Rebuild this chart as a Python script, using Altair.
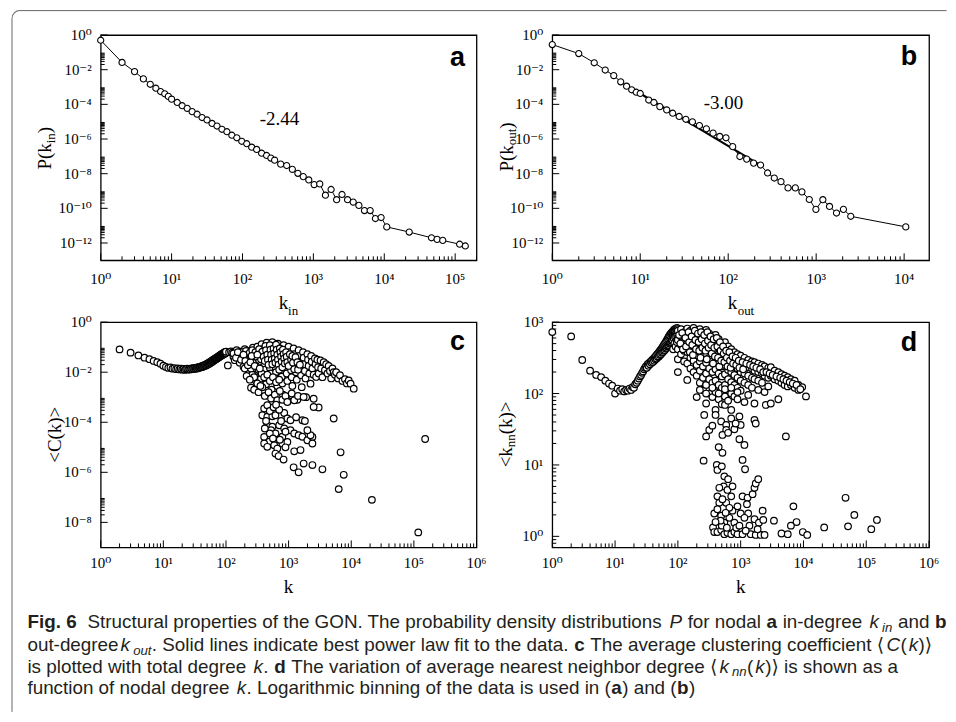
import altair as alt
import pandas as pd

SERIF = "Liberation Serif, DejaVu Serif, serif"
SANS = "Liberation Sans, Arial, sans-serif"
CAP = "Liberation Sans, Arial, DejaVu Sans, sans-serif"

# ---------------- Panel a : P(k_in), logarithmically binned ----------------
a_k = [1, 2, 3, 4, 5, 6, 7, 8, 9, 10,
       12.0, 14.1, 16.6, 19.5, 22.9, 26.9, 31.6, 37.2, 43.7, 51.3,
       60.3, 70.8, 83.2, 97.7, 114.8, 134.9, 158.5, 186.2, 218.8, 251.2,
       284, 346, 420, 505, 604, 720, 861, 1026, 1230, 1479,
       1778, 2128, 2535, 3034, 3648, 4385, 5260, 6324, 7499, 9016,
       10840, 22490, 46340, 55590, 66830, 115600, 139000]
a_logp = [-0.30, -1.58, -2.11, -2.53, -2.84, -3.07, -3.26, -3.39, -3.54, -3.70,
          -3.89, -4.08, -4.23, -4.42, -4.57, -4.76, -4.90, -5.10, -5.25, -5.44,
          -5.58, -5.78, -5.93, -6.13, -6.27, -6.47, -6.60, -6.82, -6.95, -7.10,
          -7.22, -7.45, -7.53, -7.75, -7.98, -8.17, -8.36, -8.63, -8.59, -9.24,
          -8.91, -9.50, -9.20, -9.50, -9.64, -9.83, -10.13, -10.13, -10.59, -10.53,
          -11.07, -11.37, -11.70, -11.79, -11.85, -12.07, -12.17]
a_fit_k = [10, 300]
a_fit_logp = [-3.66, -7.27]

# ---------------- Panel b : P(k_out) ----------------
b_k = [1, 2, 3, 4, 5, 6, 7, 8, 9, 10,
       12.5, 14.3, 16.7, 20.0, 23.4, 27.7, 33.0, 39.2, 47.1, 56.5,
       67.3, 80.2, 94.4, 112.5, 135.8, 162.2, 194.5, 233.3, 280.5, 334.2,
       398.1, 478.6, 579.4, 688.7, 835.6, 993.1, 1191, 1419, 1702, 2042,
       2472, 10440]
b_logp = [-0.55, -1.07, -1.60, -2.02, -2.34, -2.70, -2.95, -3.16, -3.30, -3.37,
          -3.75, -3.89, -4.13, -4.32, -4.51, -4.70, -4.86, -5.01, -5.22, -5.41,
          -5.66, -5.85, -5.93, -6.44, -7.01, -7.16, -7.39, -7.50, -7.96, -8.25,
          -8.46, -8.82, -8.82, -9.05, -9.49, -10.06, -9.50, -9.89, -10.27, -10.06,
          -10.46, -11.07]
b_fit_k = [10.3, 245]
b_fit_logp = [-3.41, -7.58]

# ---------------- integer degrees 11..100 (panels c and d) ----------------
band_k = [11, 12, 13, 14, 15, 16, 17, 18, 19, 20, 21, 22, 23, 24, 25, 26, 27, 28, 29, 30,
          31, 32, 33, 34, 35, 36, 37, 38, 39, 40, 41, 42, 43, 44, 45, 46, 47, 48, 49, 50,
          51, 52, 53, 54, 55, 56, 57, 58, 59, 60, 61, 62, 63, 64, 65, 66, 67, 68, 69, 70,
          71, 72, 73, 74, 75, 76, 77, 78, 79, 80, 81, 82, 83, 84, 85, 86, 87, 88, 89, 90,
          91, 92, 93, 94, 95, 96, 97, 98, 99, 100]

# ---------------- Panel c : <C(k)> ----------------
c_low_k = [2, 3, 4, 5, 6, 7, 8, 9, 10]
c_low_logc = [-1.09, -1.22, -1.33, -1.42, -1.48, -1.55, -1.60, -1.66, -1.74]
c_band_logc = [-1.79, -1.83, -1.81, -1.86, -1.84, -1.88, -1.85, -1.89, -1.86, -1.90,
               -1.87, -1.91, -1.88, -1.86, -1.90, -1.87, -1.89, -1.85, -1.88, -1.84,
               -1.87, -1.83, -1.86, -1.82, -1.85, -1.80, -1.83, -1.79, -1.81, -1.77,
               -1.80, -1.75, -1.78, -1.73, -1.76, -1.71, -1.74, -1.69, -1.72, -1.66,
               -1.69, -1.64, -1.67, -1.61, -1.65, -1.59, -1.62, -1.56, -1.60, -1.54,
               -1.57, -1.51, -1.55, -1.49, -1.52, -1.47, -1.50, -1.45, -1.48, -1.43,
               -1.46, -1.41, -1.44, -1.39, -1.42, -1.37, -1.40, -1.35, -1.38, -1.33,
               -1.36, -1.31, -1.34, -1.29, -1.33, -1.28, -1.31, -1.26, -1.30, -1.25,
               -1.28, -1.23, -1.27, -1.22, -1.26, -1.20, -1.24, -1.19, -1.23, -1.18]
# (log10 k, log10 C) for k > 100
c_cloud = [(2.03, -1.73), (2.05, -1.20), (2.08, -1.17),
           (2.10, -1.22), (2.12, -1.38), (2.14, -1.52), (2.17, -1.12), (2.18, -1.30), (2.20, -1.45),
           (2.22, -1.62), (2.23, -1.18), (2.25, -1.35), (2.27, -1.50), (2.28, -1.78), (2.30, -1.08),
           (2.31, -1.25), (2.33, -1.42), (2.34, -1.60), (2.36, -1.95), (2.37, -1.15), (2.38, -1.33),
           (2.40, -1.50), (2.41, -1.70), (2.42, -2.10), (2.43, -1.02), (2.44, -1.25), (2.45, -1.40),
           (2.46, -1.58), (2.47, -1.85), (2.48, -2.35), (2.40, -2.62), (2.50, -0.98), (2.51, -1.18),
           (2.52, -1.35), (2.53, -1.52), (2.54, -1.72), (2.55, -2.00), (2.56, -2.25), (2.57, -0.88),
           (2.58, -1.08), (2.59, -1.28), (2.60, -1.45), (2.61, -1.65), (2.62, -1.90), (2.63, -2.15),
           (2.64, -2.48), (2.65, -0.82), (2.66, -1.00), (2.67, -1.20), (2.68, -1.40), (2.69, -1.60),
           (2.70, -1.82), (2.71, -2.05), (2.72, -2.30), (2.73, -2.70), (2.74, -0.80), (2.75, -0.95),
           (2.76, -1.15), (2.77, -1.35), (2.78, -1.55), (2.79, -1.78), (2.80, -2.00), (2.81, -2.25),
           (2.82, -2.55), (2.83, -0.86), (2.84, -1.05), (2.85, -1.25), (2.86, -1.45), (2.87, -1.68),
           (2.88, -1.92), (2.89, -2.18), (2.90, -2.45), (2.91, -2.90), (2.92, -0.92), (2.93, -1.12),
           (2.94, -1.32), (2.95, -1.55), (2.96, -1.80), (2.97, -2.05), (2.98, -2.35), (2.99, -3.15),
           (3.00, -0.98), (3.01, -1.20), (3.02, -1.42), (3.03, -1.65), (3.04, -1.92), (3.05, -2.20),
           (3.06, -2.55), (3.08, -1.05), (3.09, -1.28), (3.10, -1.50), (3.11, -1.75), (3.12, -2.00),
           (3.13, -2.30), (3.14, -3.10), (3.16, -1.12), (3.17, -1.35), (3.18, -1.58), (3.19, -1.85),
           (3.20, -2.12), (3.21, -2.60), (3.23, -1.20), (3.24, -1.42), (3.25, -1.68), (3.26, -1.95),
           (3.27, -2.25), (3.28, -3.00), (3.30, -1.28), (3.31, -1.50), (3.32, -1.75), (3.33, -2.05),
           (3.35, -2.46), (3.36, -1.35), (3.37, -1.58), (3.38, -1.85), (3.40, -2.10), (3.40, -3.06),
           (3.42, -1.45), (3.43, -1.68), (3.44, -2.19), (3.46, -1.50), (3.47, -1.80), (3.48, -2.05),
           (3.48, -3.41), (3.40, -3.39), (3.51, -1.53), (3.52, -1.85), (3.54, -2.20), (3.56, -1.60),
           (3.58, -1.92), (3.60, -1.68), (3.62, -2.05), (3.64, -1.75), (3.66, -1.95), (3.68, -2.25),
           (3.70, -1.85), (3.72, -2.00), (3.74, -2.10), (3.76, -2.00), (3.79, -2.25), (3.82, -2.12),
           (3.86, -2.35), (3.90, -2.28), (3.93, -2.45), (3.96, -2.33), (3.99, -2.46), (4.04, -2.66),
           (2.45, -2.70), (2.52, -2.80), (2.58, -2.60), (2.62, -2.95), (2.68, -2.80), (2.72, -3.05),
           (2.78, -2.90), (2.82, -3.12), (2.86, -2.75), (2.90, -3.10), (2.95, -2.95), (2.98, -3.19),
           (3.05, -2.85), (3.09, -3.12), (3.15, -2.95), (3.24, -2.99)]
c_dense = [(2.21, -1.28), (2.26, -1.20), (2.29, -1.40), (2.32, -1.15), (2.35, -1.32), (2.38, -1.22),
           (2.39, -1.42), (2.42, -1.12), (2.44, -1.35), (2.47, -1.20), (2.49, -1.45), (2.51, -1.62),
           (2.53, -1.08), (2.55, -1.28), (2.56, -1.48), (2.58, -1.18), (2.60, -1.38), (2.62, -1.55),
           (2.63, -0.95), (2.64, -1.12), (2.66, -1.30), (2.67, -1.50), (2.68, -1.70), (2.70, -0.92),
           (2.71, -1.10), (2.72, -1.30), (2.73, -1.50), (2.74, -1.68), (2.76, -1.05), (2.77, -1.25),
           (2.78, -1.45), (2.79, -1.62), (2.80, -0.90), (2.81, -1.10), (2.82, -1.30), (2.83, -1.50),
           (2.84, -1.70), (2.85, -1.90), (2.86, -1.05), (2.87, -1.20), (2.88, -1.38), (2.89, -1.58),
           (2.90, -1.80), (2.91, -1.10), (2.92, -1.28), (2.93, -1.45), (2.94, -1.65), (2.96, -1.20),
           (2.97, -1.38), (2.98, -1.60), (3.00, -1.75), (3.02, -1.28), (3.04, -1.50), (3.06, -1.35),
           (3.07, -1.62), (3.09, -1.88), (3.11, -1.40), (3.14, -1.60), (3.15, -1.90), (3.18, -1.70),
           (2.36, -1.55), (2.43, -1.62), (2.48, -1.75), (2.52, -1.90), (2.57, -2.05), (2.61, -2.20),
           (2.66, -2.10), (2.70, -2.35), (2.75, -2.20), (2.80, -2.40), (2.85, -2.30), (2.30, -1.85),
           (2.40, -1.85), (2.45, -2.20), (2.50, -2.45), (2.55, -2.55), (2.33, -2.15), (2.38, -2.30),
           (2.12, -1.25), (2.16, -1.42), (2.19, -1.20), (2.24, -1.50), (2.28, -1.30), (2.31, -1.55),
           (2.35, -1.72), (2.39, -1.60), (2.41, -1.35), (2.46, -1.75), (2.50, -1.30), (2.54, -1.85)]
c_plume = [(2.61, -3.45), (2.66, -3.32), (2.58, -3.72), (2.66, -3.78), (2.74, -3.76), (2.79, -3.72),
           (2.93, -3.63), (2.98, -3.85), (3.03, -3.92), (3.22, -3.92), (3.26, -3.95), (2.66, -4.12),
           (2.74, -4.18), (2.85, -4.12), (2.93, -4.25), (3.03, -4.32), (3.09, -4.45), (3.16, -4.52),
           (3.22, -4.58), (3.30, -4.72), (3.38, -4.59), (3.38, -4.85), (2.61, -4.59), (2.69, -4.78),
           (2.61, -4.85), (2.66, -4.98), (2.77, -4.92), (2.82, -5.05), (2.90, -4.85), (2.98, -4.79),
           (2.79, -5.25), (2.84, -5.35), (2.92, -5.49), (2.72, -4.32), (2.79, -4.45), (2.90, -4.58),
           (2.95, -4.38), (3.09, -5.16), (3.19, -5.11), (3.08, -5.80), (3.16, -6.00), (3.24, -5.65),
           (3.38, -5.71), (3.54, -5.88), (3.35, -4.52), (3.30, -4.32), (2.70, -3.55), (2.76, -3.40),
           (2.85, -3.50), (2.88, -3.95), (2.70, -4.45), (2.62, -4.25), (2.75, -4.65), (2.86, -4.70),
           (2.95, -5.00), (3.12, -3.80), (2.80, -3.30), (2.64, -3.95),
           (3.72, -3.85), (3.83, -5.20), (3.88, -6.10), (3.80, -6.67), (4.33, -7.10), (5.07, -8.40),
           (5.18, -4.67)]

# ---------------- Panel d : <k_nn(k)> ----------------
d_low_k = [1, 2, 3, 4, 5, 6, 7, 8, 9, 10]
d_low_logknn = [2.86, 2.80, 2.47, 2.32, 2.26, 2.23, 2.18, 2.14, 2.11, 2.00]
d_band_logknn = [2.07, 2.04, 2.06, 2.03, 2.05, 2.04, 2.07, 2.05, 2.09, 2.08,
                 2.13, 2.15, 2.18, 2.21, 2.24, 2.26, 2.29, 2.31, 2.34, 2.36,
                 2.38, 2.36, 2.41, 2.39, 2.43, 2.41, 2.45, 2.43, 2.47, 2.44,
                 2.49, 2.46, 2.51, 2.48, 2.53, 2.49, 2.55, 2.51, 2.57, 2.52,
                 2.59, 2.54, 2.61, 2.55, 2.63, 2.57, 2.65, 2.58, 2.67, 2.60,
                 2.69, 2.61, 2.71, 2.63, 2.73, 2.64, 2.75, 2.66, 2.77, 2.67,
                 2.79, 2.68, 2.81, 2.70, 2.82, 2.71, 2.84, 2.72, 2.85, 2.74,
                 2.86, 2.75, 2.87, 2.62, 2.88, 2.77, 2.89, 2.70, 2.90, 2.79,
                 2.88, 2.66, 2.91, 2.80, 2.89, 2.72, 2.92, 2.82, 2.90, 2.78]
d_columns = [(2.00, [2.88, 2.75, 2.62, 2.48, 2.30]), (2.05, [2.90, 2.80, 2.68, 2.55]),
             (2.10, [2.86, 2.74, 2.60, 2.45]), (2.15, [2.91, 2.82, 2.70, 2.58, 2.42, 2.19]),
             (2.20, [2.88, 2.76, 2.64, 2.50, 2.35]), (2.25, [2.92, 2.83, 2.72, 2.60, 2.46, 2.30]),
             (2.30, [2.87, 2.78, 2.66, 2.54, 2.40, 2.25, 1.95]),
             (2.35, [2.90, 2.81, 2.70, 2.58, 2.45, 2.32, 2.15]),
             (2.40, [2.86, 2.76, 2.64, 2.52, 2.38, 2.22, 2.05]),
             (2.45, [2.89, 2.80, 2.68, 2.56, 2.43, 2.28, 2.12, 1.86]),
             (2.50, [2.84, 2.74, 2.62, 2.50, 2.35, 2.20, 2.00]),
             (2.55, [2.80, 2.70, 2.58, 2.45, 2.30, 2.15, 1.95]),
             (2.60, [2.82, 2.72, 2.60, 2.48, 2.34, 2.18, 2.02, 1.77]),
             (2.65, [2.76, 2.66, 2.55, 2.42, 2.28, 2.12, 1.92]),
             (2.70, [2.70, 2.60, 2.50, 2.38, 2.24, 2.08, 1.85]),
             (2.75, [2.72, 2.62, 2.52, 2.40, 2.27, 2.12, 1.96, 1.84]),
             (2.80, [2.66, 2.56, 2.45, 2.33, 2.20, 2.05, 1.90]),
             (2.85, [2.62, 2.52, 2.42, 2.30, 2.16, 2.00, 1.77]),
             (2.90, [2.58, 2.48, 2.38, 2.26, 2.12, 1.96]), (2.95, [2.55, 2.45, 2.35, 2.22, 2.08, 1.92]),
             (3.00, [2.53, 2.42, 2.30, 2.18, 2.04]), (3.06, [2.50, 2.40, 2.28, 2.15, 1.88]),
             (3.12, [2.47, 2.37, 2.25, 2.12, 1.98]), (3.18, [2.45, 2.35, 2.22, 2.08]),
             (3.22, [2.44, 2.32, 2.20, 1.86]), (3.28, [2.42, 2.30, 2.18, 2.05]),
             (3.34, [2.40, 2.28, 2.15]), (3.38, [2.38, 2.25, 2.02]), (3.40, [1.84]),
             (3.44, [2.36, 2.22, 2.10]), (3.48, [2.37, 2.25, 1.86]), (3.54, [2.32, 2.20]),
             (3.60, [2.30, 2.18, 1.92]), (3.65, [2.27, 2.15]), (3.70, [2.25, 2.12]),
             (3.75, [2.23, 2.10]), (3.80, [2.20, 2.12]), (3.86, [2.18, 2.08]), (3.92, [2.12, 2.05]),
             (3.98, [2.09]), (4.04, [1.96])]
d_dense = [(2.02, 2.82), (2.04, 2.70), (2.07, 2.85), (2.08, 2.62), (2.12, 2.78), (2.13, 2.66),
           (2.17, 2.86), (2.18, 2.72), (2.19, 2.58), (2.22, 2.80), (2.23, 2.68), (2.24, 2.54),
           (2.27, 2.88), (2.28, 2.75), (2.29, 2.62), (2.32, 2.84), (2.33, 2.72), (2.34, 2.60),
           (2.36, 2.50), (2.37, 2.86), (2.38, 2.76), (2.39, 2.64), (2.42, 2.82), (2.43, 2.70),
           (2.44, 2.60), (2.46, 2.48), (2.47, 2.86), (2.48, 2.74), (2.49, 2.64), (2.52, 2.80),
           (2.53, 2.68), (2.54, 2.56), (2.56, 2.42), (2.57, 2.76), (2.58, 2.64), (2.59, 2.52),
           (2.62, 2.78), (2.63, 2.66), (2.64, 2.50), (2.66, 2.38), (2.67, 2.72), (2.68, 2.60),
           (2.69, 2.46), (2.72, 2.66), (2.73, 2.56), (2.74, 2.44), (2.77, 2.60), (2.78, 2.50),
           (2.79, 2.38), (2.82, 2.58), (2.83, 2.46), (2.84, 2.36), (2.87, 2.52), (2.88, 2.42),
           (2.92, 2.50), (2.93, 2.40), (2.97, 2.46), (2.98, 2.36), (3.03, 2.44), (3.04, 2.34),
           (3.09, 2.42), (3.15, 2.40), (3.20, 2.38), (3.25, 2.36), (3.31, 2.34), (3.36, 2.30),
           (3.41, 2.30), (3.46, 2.28), (3.51, 2.26), (3.57, 2.24), (3.63, 2.22), (3.68, 2.20),
           (3.73, 2.18), (3.78, 2.16), (3.83, 2.14), (3.89, 2.12), (3.95, 2.06), (2.35, 2.05),
           (2.45, 2.00), (2.55, 2.08), (2.65, 2.00), (2.75, 2.06), (2.85, 2.08), (2.95, 2.02)]
d_plume = [(2.42, 1.70), (2.45, 1.40), (2.50, 1.49), (2.69, 1.61), (2.77, 1.56), (2.85, 1.65),
           (2.98, 1.68), (3.00, 1.56), (2.77, 1.49), (2.71, 1.42), (2.98, 1.36), (3.06, 1.28),
           (3.22, 1.63), (3.24, 1.58), (2.41, 1.06), (2.62, 1.00), (2.63, 0.93), (2.70, 0.98),
           (2.71, 1.17), (3.03, 1.07), (3.07, 0.94), (2.55, 1.55), (2.60, 1.70), (2.90, 1.50),
           (2.65, 1.25), (2.80, 1.45), (2.92, 1.58)]
d_bottom = [(2.74, 0.84), (2.73, 0.70), (2.66, 0.68), (2.63, 0.56), (2.66, 0.47), (2.61, 0.33),
            (2.58, 0.32), (2.56, 0.125), (2.58, 0.06), (2.63, 0.06), (2.69, 0.09), (2.74, 0.03),
            (2.79, 0.05), (2.85, 0.03), (2.90, 0.06), (2.95, 0.03), (3.03, 0.03), (3.16, 0.03),
            (3.24, 0.02), (3.32, 0.02), (3.38, 0.02), (2.74, 0.19), (2.82, 0.26), (2.90, 0.19),
            (2.87, 0.36), (2.95, 0.42), (3.03, 0.56), (3.11, 0.54), (3.19, 0.59), (3.22, 0.68),
            (3.24, 0.74), (3.28, 0.80), (3.10, 0.45), (3.12, 0.32), (3.00, 0.32), (3.06, 0.26),
            (3.14, 0.15), (3.22, 0.24), (3.29, 0.19), (3.27, 0.10), (3.35, 0.36), (3.36, 0.23),
            (3.53, 0.22), (2.63, 0.38), (2.69, 0.29), (2.77, 0.47), (2.85, 0.56), (2.79, 0.65),
            (2.87, 0.70), (2.70, 0.15), (2.78, 0.12), (2.82, 0.40), (2.68, 0.22), (2.76, 0.33),
            (2.93, 0.12), (2.60, 0.20), (2.71, 0.52), (2.80, 0.80), (2.98, 0.15), (3.08, 0.08),
            (3.72, 1.40), (3.84, 0.42), (3.89, 0.20), (3.80, 0.15), (3.99, 0.06), (4.06, 0.02),
            (3.65, 0.04), (3.75, 0.03), (4.33, 0.125), (4.67, 0.54), (4.71, 0.14), (4.81, 0.30),
            (5.08, 0.10), (5.17, 0.23)]

# ---------------- caption (text runs per line; r=regular b=bold i=italic s=italic subscript) ----
cap_lines = [
    [("Fig. 6", "b"), ("  Structural properties of the GON. The probability density distributions ", "r"),
     ("P", "i"), (" for nodal ", "r"), ("a", "b"), (" in-degree ", "r"), ("k", "i"), ("in", "s"),
     (" and ", "r"), ("b", "b")],
    [("out-degree", "r"), ("k", "i"), ("out", "s"),
     (". Solid lines indicate best power law fit to the data. ", "r"), ("c", "b"),
     (" The average clustering coefficient \u27e8", "r"), ("C", "i"), ("(", "r"), ("k", "i"), (")\u27e9", "r")],
    [("is plotted with total degree ", "r"), ("k", "i"), (". ", "r"), ("d", "b"),
     (" The variation of average nearest neighbor degree \u27e8", "r"), ("k", "i"), ("nn", "s"),
     ("(", "r"), ("k", "i"), (")\u27e9 is shown as a", "r")],
    [("function of nodal degree ", "r"), ("k", "i"),
     (". Logarithmic binning of the data is used in (", "r"), ("a", "b"), (") and (", "r"),
     ("b", "b"), (")", "r")],
]
cap_baselines = [628, 650.5, 672.5, 694]
CAP_X = 26
CAP_RIGHT = 948          # right end of the first caption line
RUN_GAP = 0.4            # small gap between style runs
ITALIC_GAP = 1.6         # extra room before an italic run
SUB_GAP = 2.8            # extra room before a subscript (italic overhang)

# Arial / Liberation Sans advance widths (1/1000 em)
_W = {}
for _w, _chars in [(222, "ijl"), (278, " !,./:;ftI"), (333, "()-r"), (500, "cksvxyzJ"),
                   (556, "0123456789abdeghnopquL?"), (584, "<>=+"), (611, "FTZ"),
                   (667, "ABEKPSVXY"), (722, "CDHNRUw"), (778, "GOQ"), (833, "mM"), (944, "W"),
                   (390, "\u27e8\u27e9")]:
    for _c in _chars:
        _W[_c] = _w
_WB = dict(_W)
_WB.update({"b": 611, "d": 611, "g": 611, "i": 278, "c": 556, "F": 611})


def text_em(s, style):
    tab = _WB if style == "b" else _W
    scale = 0.7 if style == "s" else 1.0
    return sum(tab.get(ch, 556) for ch in s) * scale / 1000.0


def run_gap(prev_style, style):
    if prev_style is None:
        return 0.0
    g = RUN_GAP
    if style == "i" and prev_style != "i":
        g += ITALIC_GAP
    if style == "s":
        g += SUB_GAP
    return g


SUP = str.maketrans("0123456789-", "\u2070\u00b9\u00b2\u00b3\u2074\u2075\u2076\u2077\u2078\u2079\u207b")


def dec_label(e):
    return "10" + str(e).translate(SUP)


def one_row():
    return alt.Data(values=[{"o": 0}])


def txt(x, y, s, size=19, font=SERIF, angle=None, align="left", weight="normal",
        style="normal", baseline="alphabetic", color="black"):
    mk = dict(font=font, fontSize=size, align=align, baseline=baseline,
              fontWeight=weight, fontStyle=style, color=color)
    if angle is not None:
        mk["angle"] = angle
    return alt.Chart(one_row()).mark_text(**mk).encode(
        x=alt.value(x), y=alt.value(y), text=alt.value(s))


def axis_layers(H, xs, ys, xdom, ydom, x_exps, y_exps, y_minor_base, xlab_dy):
    def in_x(v):
        return xdom[0] * 0.999 <= v <= xdom[1] * 1.001

    def in_y(v):
        return ydom[0] * 0.999 <= v <= ydom[1] * 1.001

    xmaj = pd.DataFrame({"v": [10.0 ** e for e in x_exps], "lab": [dec_label(e) for e in x_exps]})
    xmin = pd.DataFrame({"v": [m * 10.0 ** e for e in x_exps for m in range(2, 10) if in_x(m * 10.0 ** e)]})
    ymaj = pd.DataFrame({"v": [10.0 ** e for e in y_exps], "lab": [dec_label(e) for e in y_exps]})
    ymin = pd.DataFrame({"v": [m * 10.0 ** e for e in y_minor_base for m in range(2, 10) if in_y(m * 10.0 ** e)]})

    def X():
        return alt.X("v:Q", scale=xs, axis=None)

    def Y():
        return alt.Y("v:Q", scale=ys, axis=None)

    rule = dict(color="black", strokeWidth=1)
    return [
        alt.Chart(xmaj).mark_rule(**rule).encode(x=X(), y=alt.value(H), y2=alt.value(H - 7)),
        alt.Chart(xmin).mark_rule(**rule).encode(x=X(), y=alt.value(H), y2=alt.value(H - 4)),
        alt.Chart(ymaj).mark_rule(**rule).encode(y=Y(), x=alt.value(0), x2=alt.value(7)),
        alt.Chart(ymin).mark_rule(**rule).encode(y=Y(), x=alt.value(0), x2=alt.value(4)),
        alt.Chart(xmaj).mark_text(font=SERIF, fontSize=15, align="center", baseline="alphabetic").encode(
            x=X(), y=alt.value(H + xlab_dy), text="lab:N"),
        alt.Chart(ymaj).mark_text(font=SERIF, fontSize=15, align="right", baseline="middle").encode(
            y=Y(), x=alt.value(-9), text="lab:N"),
    ]


def pts(df, xs, ys, size, sw=1.1):
    return alt.Chart(df).mark_circle(size=size, fill="white", stroke="black", strokeWidth=sw,
                                     opacity=1, fillOpacity=1).encode(
        x=alt.X("x:Q", scale=xs, axis=None), y=alt.Y("y:Q", scale=ys, axis=None))


def line(df, xs, ys, w=1.0):
    return alt.Chart(df).mark_line(color="black", strokeWidth=w).encode(
        x=alt.X("x:Q", scale=xs, axis=None), y=alt.Y("y:Q", scale=ys, axis=None))


def frame(xs_list, ys_list):
    return pd.DataFrame({"x": xs_list, "y": ys_list})


# ---------------- panel a ----------------
WA, HA = 377, 226
xa_dom, ya_dom = [1, 2e5], [1e-13, 1]
xs_a = alt.Scale(type="log", domain=xa_dom, nice=False)
ys_a = alt.Scale(type="log", domain=ya_dom, nice=False)
df_a = frame(a_k, [10 ** v for v in a_logp])
df_afit = frame(a_fit_k, [10 ** v for v in a_fit_logp])
A_X0, A_Y0 = 99.5, 33
layers_a = axis_layers(HA, xs_a, ys_a, xa_dom, ya_dom, list(range(0, 6)),
                       [0, -2, -4, -6, -8, -10, -12], [0, -2, -4, -6, -8, -10, -12], 24)
layers_a += [
    line(df_afit, xs_a, ys_a, 1.4), line(df_a, xs_a, ys_a), pts(df_a, xs_a, ys_a, 38),
    txt(WA - 11.5, 31, "a", size=27, font=SANS, weight="bold", align="right"),
    txt(159.5, 90, "-2.44", size=19),
    txt(178.5, 275, "k"), txt(188, 281, "in", size=13),
    txt(-49.5, 135, "P(k", angle=270), txt(-45.5, 108.6, "in", size=13, angle=270),
    txt(-49.5, 98.5, ")", angle=270),
    # outer rounded frame of the figure
    alt.Chart(one_row()).mark_rule(color="#666", strokeWidth=1).encode(
        x=alt.value(18.5 - A_X0), x2=alt.value(948 - A_X0), y=alt.value(8.5 - A_Y0)),
    alt.Chart(one_row()).mark_rule(color="#666", strokeWidth=1).encode(
        x=alt.value(10.5 - A_X0), y=alt.value(16.5 - A_Y0), y2=alt.value(712 - A_Y0)),
    alt.Chart(one_row()).mark_arc(color="#666", radius=8.5, radius2=7.5, theta=4.7124, theta2=6.2832).encode(
        x=alt.value(18.5 - A_X0), y=alt.value(16.5 - A_Y0)),
]
panel_a = alt.layer(*layers_a).properties(width=WA, height=HA)

# ---------------- panel b ----------------
WB, HB = 378, 226
xb_dom, yb_dom = [1, 1.92e4], [1e-13, 1]
xs_b = alt.Scale(type="log", domain=xb_dom, nice=False)
ys_b = alt.Scale(type="log", domain=yb_dom, nice=False)
df_b = frame(b_k, [10 ** v for v in b_logp])
df_bfit = frame(b_fit_k, [10 ** v for v in b_fit_logp])
layers_b = axis_layers(HB, xs_b, ys_b, xb_dom, yb_dom, list(range(0, 5)),
                       [0, -2, -4, -6, -8, -10, -12], [0, -2, -4, -6, -8, -10, -12], 24)
layers_b += [
    line(df_bfit, xs_b, ys_b, 2.2), line(df_b, xs_b, ys_b), pts(df_b, xs_b, ys_b, 38),
    txt(WB - 12, 30, "b", size=27, font=SANS, weight="bold", align="right"),
    txt(152, 74, "-3.00", size=19),
    txt(176, 275, "k"), txt(186, 281, "out", size=13),
    txt(-39.7, 137, "P(k", angle=270), txt(-36, 110.6, "out", size=13, angle=270),
    txt(-39.7, 94, ")", angle=270),
]
panel_b = alt.layer(*layers_b).properties(width=WB, height=HB)

# ---------------- panel c ----------------
WC, HC = 377, 226
xc_dom, yc_dom = [1, 1e6], [1e-9, 1]
xs_c = alt.Scale(type="log", domain=xc_dom, nice=False)
ys_c = alt.Scale(type="log", domain=yc_dom, nice=False)
c_rest = c_cloud + c_dense + c_plume
df_c = frame(c_low_k + band_k + [10 ** p[0] for p in c_rest],
             [10 ** v for v in c_low_logc + c_band_logc] + [10 ** p[1] for p in c_rest])
C_X0, C_Y0 = 99.5, 321
layers_c = axis_layers(HC, xs_c, ys_c, xc_dom, yc_dom, list(range(0, 7)),
                       [0, -2, -4, -6, -8], [0, -2, -4, -6, -8], 20.5)
layers_c += [
    pts(df_c, xs_c, ys_c, 44, 1.2),
    txt(WC - 11.5, 28, "c", size=27, font=SANS, weight="bold", align="right"),
    txt(WC / 2, 272, "k", align="center"),
    txt(-40, HC / 2, "<C(k)>", angle=270, align="center"),
]

# caption: runs are chained using the font's advance widths
line1_gaps = 0.0
_prev = None
for _s, _st in cap_lines[0]:
    line1_gaps += run_gap(_prev, _st)
    _prev = _st
cap_size = (CAP_RIGHT - CAP_X - line1_gaps) / sum(text_em(s, st) for s, st in cap_lines[0])
style_map = {
    "r": dict(weight="normal", style="normal", k=1.0, dy=0),
    "b": dict(weight="bold", style="normal", k=1.0, dy=0),
    "i": dict(weight="normal", style="italic", k=1.0, dy=0),
    "s": dict(weight="normal", style="italic", k=0.7, dy=4),
}
for li, runs in enumerate(cap_lines):
    xcur = CAP_X
    prev = None
    for s, st in runs:
        sm = style_map[st]
        xcur += run_gap(prev, st)
        prev = st
        lead = len(s) - len(s.lstrip(" "))
        xdraw = xcur + text_em(s[:lead], st) * cap_size
        body = s.strip(" ")
        if body:
            layers_c.append(txt(xdraw - C_X0, cap_baselines[li] + sm["dy"] - C_Y0, body,
                                size=round(cap_size * sm["k"], 2), font=CAP,
                                weight=sm["weight"], style=sm["style"], color="#231f20"))
        xcur += text_em(s, st) * cap_size
panel_c = alt.layer(*layers_c).properties(width=WC, height=HC)

# ---------------- panel d ----------------
WD, HD = 378, 226
xd_dom, yd_dom = [1, 1e6], [0.7, 1000]
xs_d = alt.Scale(type="log", domain=xd_dom, nice=False)
ys_d = alt.Scale(type="log", domain=yd_dom, nice=False)
d_rest = [(lk, v) for lk, vals in d_columns for v in vals] + d_dense + d_plume + d_bottom
df_d = frame(d_low_k + band_k + [10 ** p[0] for p in d_rest],
             [10 ** v for v in d_low_logknn + d_band_logknn] + [10 ** p[1] for p in d_rest])
D_Y0 = 321
layers_d = axis_layers(HD, xs_d, ys_d, xd_dom, yd_dom, list(range(0, 7)),
                       [0, 1, 2, 3], [-1, 0, 1, 2], 20.5)
layers_d += [
    pts(df_d, xs_d, ys_d, 44, 1.2),
    txt(WD - 12, 29, "d", size=27, font=SANS, weight="bold", align="right"),
    txt(WD / 2, 272, "k", align="center"),
    txt(-40.7, 466.7 - D_Y0, "<k", angle=270), txt(-37, 446.5 - D_Y0, "nn", size=13, angle=270),
    txt(-40.7, 433.5 - D_Y0, "(k)>", angle=270),
]
panel_d = alt.layer(*layers_d).properties(width=WD, height=HD)

chart = alt.concat(
    panel_a, panel_b, panel_c, panel_d, columns=2,
    spacing={"row": 62, "column": 76}, bounds="flush"
).properties(
    padding={"left": 2, "top": 0, "right": 0, "bottom": 0}, background="white"
).configure_view(stroke="black", strokeWidth=1.3)

chart.save("out.html", embed_options={"renderer": "svg", "actions": False})
